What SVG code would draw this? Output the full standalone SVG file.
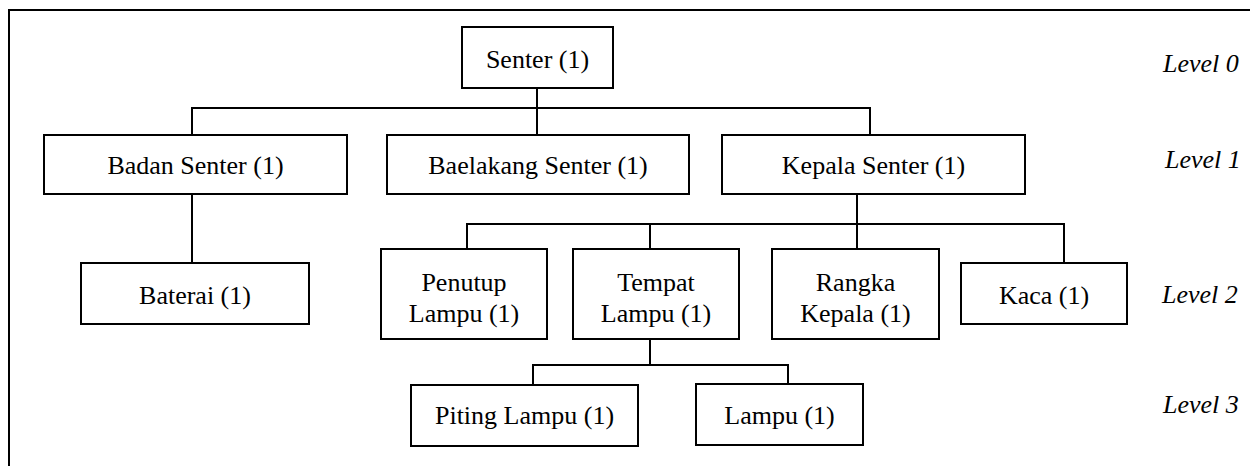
<svg xmlns="http://www.w3.org/2000/svg" width="1250" height="466" viewBox="0 0 1250 466">
<style>
.box{fill:#fff;stroke:#000;stroke-width:2}
.lbl{font-family:"Liberation Serif","Times New Roman",serif;font-size:26px;fill:#000;text-anchor:middle}
.lvl{font-family:"Liberation Serif","Times New Roman",serif;font-size:26px;font-style:italic;fill:#000}
.con{fill:none;stroke:#000;stroke-width:2}
</style>
<rect x="9" y="10" width="1270" height="500" fill="#fff" stroke="#000" stroke-width="2"/>
<g id="connectors">
<path class="con" d="M537,88 V135 M192,135 V108 H870 V135"/>
<path class="con" d="M192,194 V263"/>
<path class="con" d="M857,194 V249 M467,249 V224 H1064 V263 M650,224 V249"/>
<path class="con" d="M650,339 V365 M533,385 V365 H788 V384"/>
</g>
<g id="senter"><rect class="box" x="462" y="27" width="151" height="61"/><text class="lbl" x="537.5" y="68">Senter (1)</text></g>
<g id="badan"><rect class="box" x="44" y="135" width="303" height="59"/><text class="lbl" x="195.5" y="174">Badan Senter (1)</text></g>
<g id="baelakang"><rect class="box" x="387" y="135" width="302" height="59"/><text class="lbl" x="538" y="174">Baelakang Senter (1)</text></g>
<g id="kepala"><rect class="box" x="722" y="135" width="303" height="59"/><text class="lbl" x="873.5" y="174">Kepala Senter (1)</text></g>
<g id="baterai"><rect class="box" x="81" y="263" width="228" height="61"/><text class="lbl" x="195" y="304">Baterai (1)</text></g>
<g id="penutup"><rect class="box" x="381" y="249" width="166" height="90"/><text class="lbl" x="464" y="290.5">Penutup</text><text class="lbl" x="464" y="321.5">Lampu (1)</text></g>
<g id="tempat"><rect class="box" x="573" y="249" width="166" height="90"/><text class="lbl" x="656" y="290.5">Tempat</text><text class="lbl" x="656" y="321.5">Lampu (1)</text></g>
<g id="rangka"><rect class="box" x="772" y="249" width="167" height="90"/><text class="lbl" x="855.5" y="290.5">Rangka</text><text class="lbl" x="855.5" y="321.5">Kepala (1)</text></g>
<g id="kaca"><rect class="box" x="961" y="263" width="166" height="61"/><text class="lbl" x="1044" y="303.5">Kaca (1)</text></g>
<g id="piting"><rect class="box" x="411" y="385" width="227" height="61"/><text class="lbl" x="524.5" y="424">Piting Lampu (1)</text></g>
<g id="lampu"><rect class="box" x="696" y="384" width="167" height="61"/><text class="lbl" x="779.5" y="424">Lampu (1)</text></g>
<g id="levels">
<text class="lvl" x="1163" y="72">Level 0</text>
<text class="lvl" x="1165" y="168">Level 1</text>
<text class="lvl" x="1162" y="303">Level 2</text>
<text class="lvl" x="1163" y="413">Level 3</text>
</g>
</svg>
